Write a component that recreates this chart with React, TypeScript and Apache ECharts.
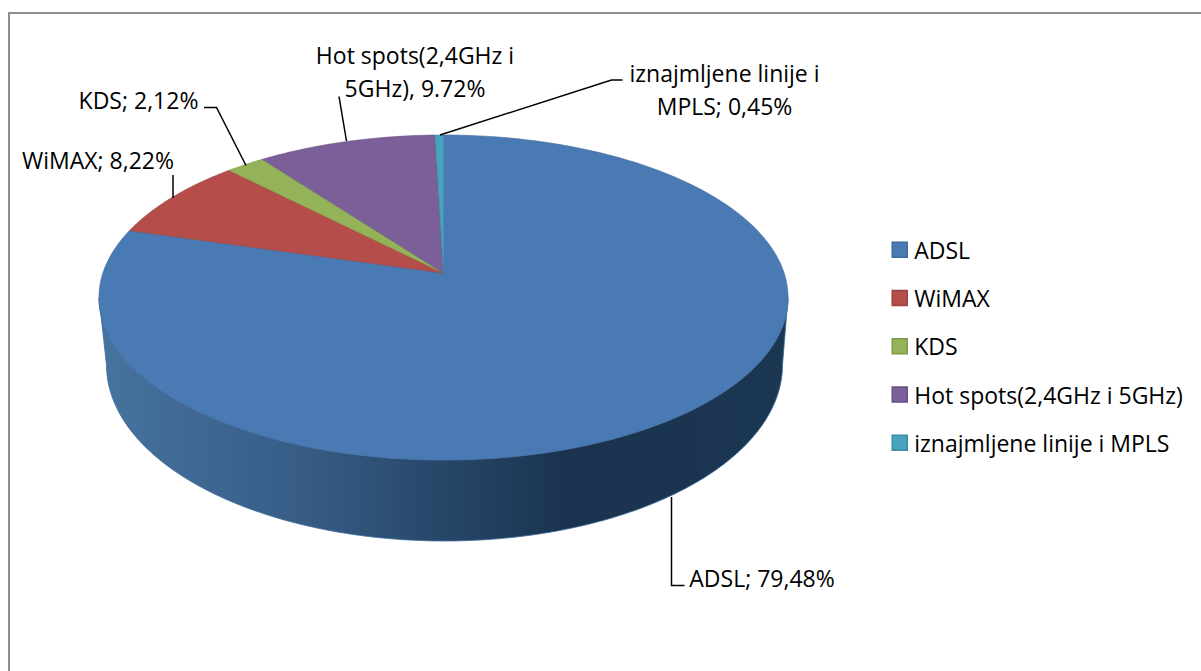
import React, { useEffect, useRef } from "react";
import * as echarts from "echarts";

const categories = ["ADSL", "WiMAX", "KDS", "Hot spots(2,4GHz i 5GHz)", "iznajmljene linije i MPLS"];
const shares = [79.48, 8.22, 2.12, 9.72, 0.45];
const colors = ["#4a7ab3", "#b54d4b", "#94b257", "#7a5f98", "#46a4bf"];
const borders = ["#3f6a9c", "#9c4240", "#7f9a4a", "#684f84", "#3a8da6"];

const FONT = "'Open Sans', Lato, sans-serif";
const FS = 23;

// perspective of the pie's top face
const APEX_X = 443.5, APEX_Y = 273, A = 340.6, B = 158.8, K = 0.1507;
const total = shares.reduce((a, b) => a + b, 0);

function project(deg: number): number[] {
  const r = (deg * Math.PI) / 180;
  const X = Math.sin(r), Y = Math.cos(r);
  const w = 1 + K * Y;
  return [APEX_X + (A * X) / w, APEX_Y - (B * Y) / w];
}

function slicePoints(from: number, to: number): number[][] {
  const pts = [[APEX_X, APEX_Y]];
  const n = Math.max(2, Math.ceil((to - from) / 1));
  for (let i = 0; i <= n; i++) pts.push(project(from + ((to - from) * i) / n));
  return pts;
}

function rimPoints(): number[][] {
  const pts: number[][] = [];
  const cxT = 443.5, cyT = 297.5, rxT = 344.5, ryT = 162.5;
  const cxB = 444.5, cyB = 365, rxB = 338, ryB = 176;
  for (let i = 0; i <= 180; i++) {
    const a = (i * Math.PI) / 180;
    pts.push([cxT + rxT * Math.cos(a), cyT + ryT * Math.sin(a)]);
  }
  for (let i = 180; i >= 0; i--) {
    const a = (i * Math.PI) / 180;
    pts.push([cxB + rxB * Math.cos(a), cyB + ryB * Math.sin(a)]);
  }
  return pts;
}

const rimGradient = new echarts.graphic.LinearGradient(0, 0, 1, 0, [
  { offset: 0, color: "#46739f" },
  { offset: 0.3, color: "#365c85" },
  { offset: 0.68, color: "#1a334f" },
  { offset: 1, color: "#1c3752" },
]);

function makeSeries() {
  let acc = 0;
  return categories.map((name, idx) => {
    const start = (acc / total) * 360;
    acc += shares[idx];
    const end = (acc / total) * 360;
    return {
      type: "custom",
      name,
      coordinateSystem: "none",
      silent: true,
      z: 2,
      itemStyle: { color: colors[idx] },
      data: [[shares[idx]]],
      renderItem: () => {
        const children: any[] = [];
        if (idx === 0) {
          children.push({
            type: "polygon",
            shape: { points: rimPoints() },
            style: { fill: rimGradient, stroke: "#3f6d9e", lineWidth: 0.8 },
          });
        }
        children.push({
          type: "polygon",
          shape: { points: slicePoints(start, end) },
          style: { fill: colors[idx], stroke: borders[idx], lineWidth: 0.6 },
        });
        return { type: "group", children };
      },
    };
  });
}

const labelTexts = [
  { text: "Hot spots(2,4GHz i\n5GHz), 9.72%", x: 415, y: 71.5 },
  { text: "iznajmljene linije i\nMPLS; 0,45%", x: 724.5, y: 89 },
  { text: "KDS; 2,12%", x: 138.5, y: 100 },
  { text: "WiMAX; 8,22%", x: 98, y: 160 },
  { text: "ADSL; 79,48%", x: 762, y: 578 },
];

const leaders = [
  [[339, 96.5], [346.5, 141]],
  [[204, 107.5], [216.5, 107.5], [246, 165.5]],
  [[173, 175], [173, 198]],
  [[440, 135], [611.5, 80], [622.5, 80]],
  [[671.5, 497], [671.5, 585.5], [684.5, 585.5]],
];

export default function App() {
  const ref = useRef<HTMLDivElement>(null);
  useEffect(() => {
    const chart = echarts.init(ref.current!, undefined, { renderer: "svg" });
    chart.setOption({
      animation: false,
      backgroundColor: "#fff",
      textStyle: { fontFamily: FONT },
      legend: {
        orient: "vertical",
        left: 891.5,
        top: 238,
        icon: "rect",
        selectedMode: false,
        itemWidth: 15,
        itemHeight: 15,
        itemGap: 25,
        padding: 0,
        textStyle: { fontFamily: FONT, fontSize: FS, color: "#000", padding: [0, 0, 0, 2], lineHeight: 23.3, height: 23.3 },
        data: categories.map((name, i) => ({
          name,
          itemStyle: { color: colors[i], borderColor: borders[i], borderWidth: 1.5 },
        })),
      },
      series: makeSeries(),
      graphic: [
        {
          type: "polyline",
          z: 0,
          silent: true,
          shape: { points: [[9, 680], [9, 13], [1210, 13]] },
          style: { fill: "none", stroke: "#8e8e8e", lineWidth: 2 },
        },
        ...leaders.map((points) => ({
          type: "polyline",
          z: 10,
          silent: true,
          shape: { points },
          style: { fill: "none", stroke: "#000", lineWidth: 1.5 },
        })),
        ...labelTexts.map((l) => ({
          type: "text",
          z: 10,
          silent: true,
          x: l.x,
          y: l.y,
          style: {
            text: l.text,
            fontFamily: FONT,
            fontSize: FS,
            fill: "#000",
            align: "center",
            verticalAlign: "middle",
            lineHeight: 33,
          },
        })),
      ],
    });
    return () => chart.dispose();
  }, []);
  return <div ref={ref} style={{ position: "fixed", left: 0, top: 0, width: 1201, height: 671 }} />;
}
